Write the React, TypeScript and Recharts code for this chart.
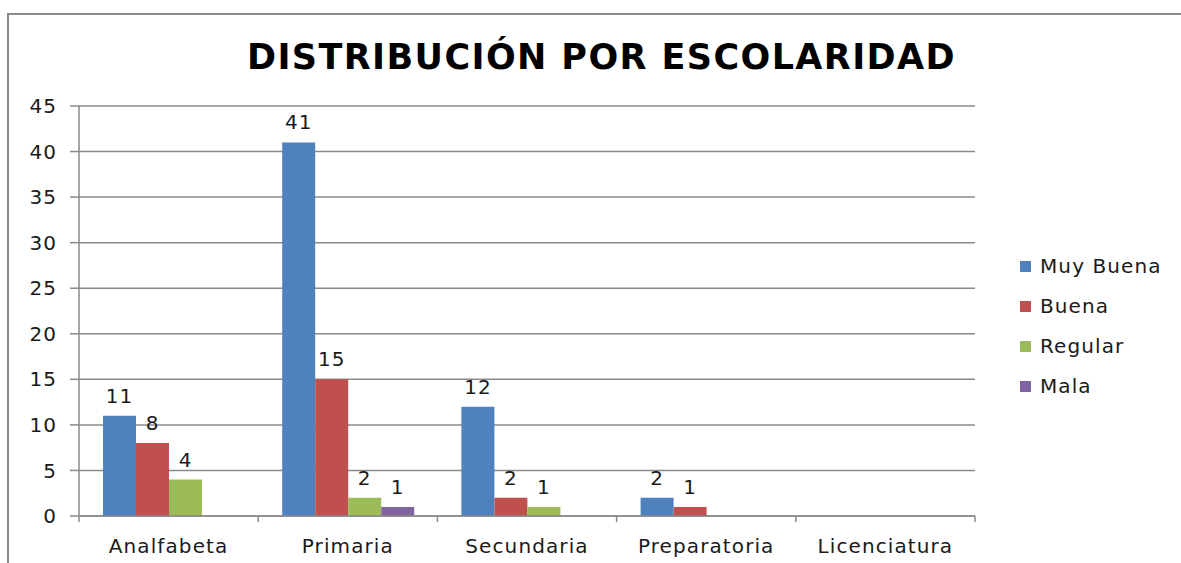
import { BarChart, Bar, XAxis, YAxis, CartesianGrid, LabelList } from 'recharts'

const categories = ['Analfabeta', 'Primaria', 'Secundaria', 'Preparatoria', 'Licenciatura']
const muyBuena = [11, 41, 12, 2, 0]
const buena = [8, 15, 2, 1, 0]
const regular = [4, 2, 1, 0, 0]
const mala = [0, 1, 0, 0, 0]
const yTicks = [0, 5, 10, 15, 20, 25, 30, 35, 40, 45]

const series = [
  { key: 'muyBuena', name: 'Muy Buena', color: '#4F81BD' },
  { key: 'buena', name: 'Buena', color: '#C0504D' },
  { key: 'regular', name: 'Regular', color: '#9BBB59' },
  { key: 'mala', name: 'Mala', color: '#8064A2' }
]

const data = categories.map((c, i) => ({
  category: c,
  muyBuena: muyBuena[i],
  buena: buena[i],
  regular: regular[i],
  mala: mala[i]
}))

const FONT = '"DejaVu Sans", sans-serif'
const TXT = '#1a1a1a'
const GRID = '#8a8a8a'
const W = 1181
const H = 563
const X_AXIS_H = 30
const M = { top: 106, right: 206, bottom: 47 - X_AXIS_H, left: 0 }
const Y_AXIS_W = 79
const band = (W - M.left - M.right - Y_AXIS_W) / categories.length

function CategoryTick(props: any) {
  const { x, y, payload, index } = props
  return (
    <g>
      <line x1={x - band / 2} x2={x - band / 2} y1={y - 8} y2={y - 2} stroke={GRID} strokeWidth={1.5} />
      {index === categories.length - 1 && (
        <line x1={x + band / 2} x2={x + band / 2} y1={y - 8} y2={y - 2} stroke={GRID} strokeWidth={1.5} />
      )}
      <text x={x} y={y + 29} textAnchor="middle" fill={TXT} fontSize={20} letterSpacing={1.1} fontFamily={FONT}>
        {payload.value}
      </text>
    </g>
  )
}

const hideZero = (v: any) => (v === 0 ? '' : v)

export default function App() {
  return (
    <div style={{ position: 'absolute', left: 0, top: 0, width: W, height: H, background: '#fff', overflow: 'hidden' }}>
      <div
        style={{
          position: 'absolute',
          left: 7,
          top: 13,
          width: W,
          height: H,
          borderLeft: `2px solid ${GRID}`,
          borderTop: `2px solid ${GRID}`
        }}
      />
      <div
        style={{
          position: 'absolute',
          left: 0,
          top: 33,
          width: 1203,
          textAlign: 'center',
          fontFamily: FONT,
          fontWeight: 'bold',
          fontSize: 35,
          letterSpacing: 1.4,
          lineHeight: '48px',
          color: '#000'
        }}
      >
        DISTRIBUCIÓN POR ESCOLARIDAD
      </div>
      <div style={{ position: 'absolute', left: 0, top: 0 }}>
        <BarChart width={W} height={H} data={data} margin={M} barCategoryGap={24} barGap={0}>
          <CartesianGrid vertical={false} stroke={GRID} strokeWidth={1.5} />
          <XAxis
            dataKey="category"
            height={X_AXIS_H}
            stroke={GRID}
            strokeWidth={1.5}
            tickLine={false}
            tick={<CategoryTick />}
            interval={0}
          />
          <YAxis
            domain={[0, 45]}
            ticks={yTicks}
            width={Y_AXIS_W}
            stroke={GRID}
            strokeWidth={1.5}
            tickSize={9}
            tickMargin={13}
            tick={{ fill: TXT, fontSize: 20, letterSpacing: 1, fontFamily: FONT }}
          />
          {series.map(s => (
            <Bar key={s.key} dataKey={s.key} name={s.name} fill={s.color} isAnimationActive={false}>
              <LabelList
                dataKey={s.key}
                position="top"
                offset={13}
                formatter={hideZero}
                fill={TXT}
                fontSize={20}
                letterSpacing={1}
                fontFamily={FONT}
              />
            </Bar>
          ))}
        </BarChart>
      </div>
      <div
        style={{
          position: 'absolute',
          left: 1020,
          top: 246,
          fontFamily: FONT,
          fontSize: 20,
          letterSpacing: 1.1,
          color: TXT
        }}
      >
        {series.map(s => (
          <div key={s.key} style={{ display: 'flex', alignItems: 'center', height: 40 }}>
            <span style={{ width: 11, height: 11, background: s.color, marginRight: 9, display: 'inline-block' }} />
            {s.name}
          </div>
        ))}
      </div>
    </div>
  )
}
